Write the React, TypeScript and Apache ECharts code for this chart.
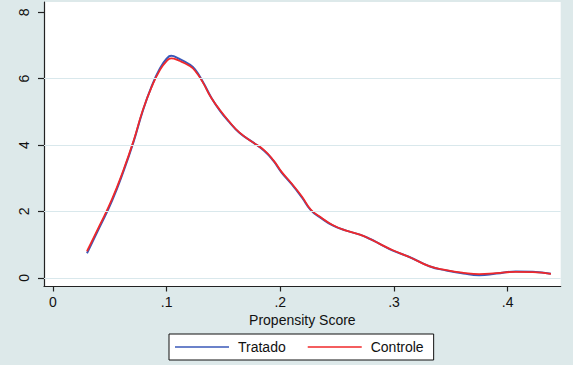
import React, { useEffect, useRef } from "react";
import * as echarts from "echarts";

// Kernel density of the propensity score for treated and control groups
const scoreX = [
  0.03, 0.041, 0.052, 0.062, 0.071, 0.079, 0.087, 0.094, 0.1, 0.104, 0.111, 0.12,
  0.125, 0.132, 0.139, 0.147, 0.155, 0.164, 0.176, 0.186, 0.194, 0.201, 0.21,
  0.219, 0.227, 0.235, 0.246, 0.258, 0.27, 0.279, 0.287, 0.299, 0.314, 0.331,
  0.346, 0.361, 0.375, 0.39, 0.407, 0.422, 0.438,
];
const tratado = [
  0.74, 1.52, 2.32, 3.2, 4.1, 5.02, 5.78, 6.3, 6.6, 6.69, 6.6, 6.43, 6.28, 5.9,
  5.45, 5.03, 4.7, 4.37, 4.08, 3.82, 3.52, 3.18, 2.82, 2.42, 2.03, 1.82, 1.58,
  1.42, 1.3, 1.17, 1.03, 0.82, 0.62, 0.35, 0.22, 0.13, 0.08, 0.13, 0.19, 0.18,
  0.12,
];
const controle = [
  0.8, 1.57, 2.37, 3.24, 4.13, 5.04, 5.76, 6.25, 6.53, 6.61, 6.54, 6.39, 6.24,
  5.88, 5.44, 5.05, 4.71, 4.38, 4.08, 3.84, 3.54, 3.2, 2.84, 2.45, 2.05, 1.84,
  1.59, 1.42, 1.3, 1.17, 1.03, 0.83, 0.62, 0.35, 0.23, 0.15, 0.11, 0.14, 0.18,
  0.17, 0.12,
];
const xTicks = [0, 0.1, 0.2, 0.3, 0.4];
const yTicks = [0, 2, 4, 6, 8];
const yGridLines = [0, 2, 4, 6];
const seriesNames = ["Tratado", "Controle"];

const FONT = "Liberation Sans, Arial, Helvetica, sans-serif";

export default function App() {
  const ref = useRef<HTMLDivElement>(null);

  useEffect(() => {
    if (!ref.current) return;
    const chart = echarts.init(ref.current, undefined, { renderer: "svg" });
    const pairs = (ys: number[]) => scoreX.map((x, i) => [x, ys[i]]);

    chart.setOption({
      animation: false,
      backgroundColor: "#dde9ea",
      textStyle: { fontFamily: FONT },
      grid: {
        left: 44,
        top: 2,
        right: 12.3,
        bottom: 78.5,
        show: true,
        backgroundColor: "#ffffff",
        borderWidth: 0,
      },
      xAxis: {
        type: "value",
        min: -0.0078,
        max: 0.4466,
        name: "Propensity Score",
        nameLocation: "middle",
        nameGap: 25,
        nameTextStyle: { fontSize: 14, color: "#111", fontFamily: FONT },
        axisLine: { show: true, onZero: false, lineStyle: { color: "#222", width: 1.2 } },
        axisTick: {
          show: true,
          length: 5,
          customValues: xTicks,
          lineStyle: { color: "#222", width: 1.2 },
        },
        axisLabel: {
          customValues: xTicks,
          fontSize: 14,
          color: "#111",
          margin: 8,
          fontFamily: FONT,
          formatter: (v: number) => (v === 0 ? "0" : String(v).replace(/^0\./, ".")),
        },
        splitLine: { show: false },
      },
      yAxis: {
        type: "value",
        min: -0.262,
        max: 8.31,
        axisLine: { show: true, onZero: false, lineStyle: { color: "#222", width: 1.2 } },
        axisTick: {
          show: true,
          length: 6,
          customValues: yTicks,
          lineStyle: { color: "#222", width: 1.2 },
        },
        axisLabel: {
          customValues: yTicks,
          rotate: 90,
          fontSize: 14,
          color: "#111",
          margin: 13,
          fontFamily: FONT,
        },
        splitLine: { show: false },
      },
      legend: {
        data: seriesNames,
        left: 169,
        top: 334,
        orient: "horizontal",
        padding: [6, 10, 6, 6],
        icon: "rect",
        itemWidth: 54,
        itemHeight: 1.6,
        itemGap: 22,
        backgroundColor: "#ffffff",
        borderColor: "#111",
        borderWidth: 1,
        borderRadius: 0,
        textStyle: {
          fontSize: 14,
          lineHeight: 14,
          color: "#111",
          fontFamily: FONT,
          padding: [0, 0, 0, 4],
        },
      },
      series: [
        {
          name: "grid",
          type: "line",
          data: [],
          silent: true,
          z: 1,
          markLine: {
            silent: true,
            symbol: "none",
            label: { show: false },
            lineStyle: { color: "#d9e8ec", width: 1, type: "solid" },
            data: yGridLines.map((v) => ({ yAxis: v })),
          },
        },
        {
          name: seriesNames[0],
          type: "line",
          data: pairs(tratado),
          smooth: 0.5,
          showSymbol: false,
          symbol: "none",
          z: 2,
          lineStyle: { color: "#3a58b8", width: 2 },
          itemStyle: { color: "#3a58b8" },
        },
        {
          name: seriesNames[1],
          type: "line",
          data: pairs(controle),
          smooth: 0.5,
          showSymbol: false,
          symbol: "none",
          z: 3,
          lineStyle: { color: "#f0282a", width: 1.8 },
          itemStyle: { color: "#f0282a" },
        },
      ],
    });

    return () => chart.dispose();
  }, []);

  return (
    <div
      ref={ref}
      style={{ position: "fixed", left: 0, top: 0, width: 573, height: 365 }}
    />
  );
}
